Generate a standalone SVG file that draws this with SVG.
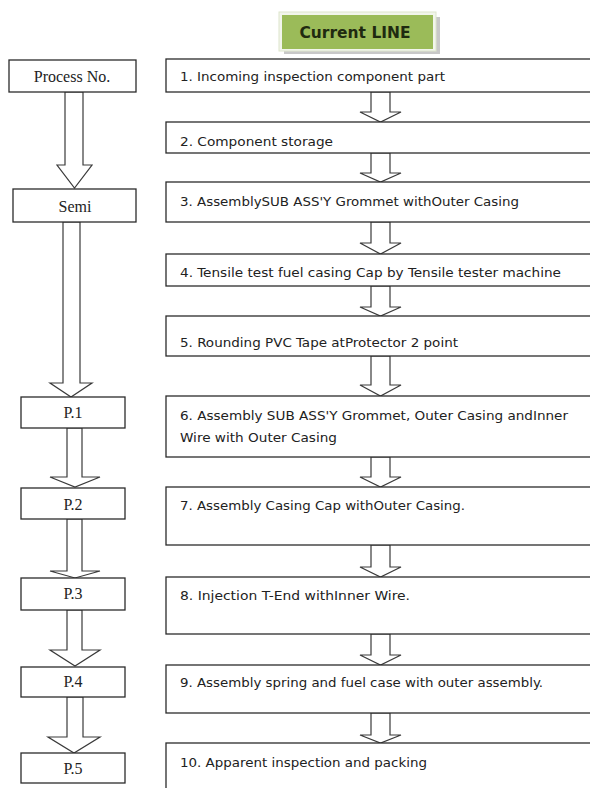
<svg xmlns="http://www.w3.org/2000/svg" width="590" height="788" viewBox="0 0 590 788">
<style>
.box{fill:#fff;stroke:#2b2b2b;stroke-width:1.3}
.arr{fill:#fff;stroke:#3a3a3a;stroke-width:1.2;stroke-linejoin:miter}
.lt{font-family:"Liberation Serif","Times New Roman",serif;font-size:16px;fill:#222;text-anchor:middle}
.rt{font-family:"DejaVu Sans Condensed","DejaVu Sans",sans-serif;font-size:13px;fill:#222}
.hd{font-family:"DejaVu Sans Condensed","DejaVu Sans",sans-serif;font-size:15px;font-weight:bold;fill:#1f2a10;text-anchor:middle}
</style>
<rect width="590" height="788" fill="#fff"/>
<g id="header">
<rect x="284" y="17" width="156" height="37" fill="#c8c8c8"/>
<rect x="279" y="12" width="157" height="39" fill="#f2f5ec" stroke="#dde5cc" stroke-width="1"/>
<rect x="282" y="15" width="151" height="34" fill="#9bbb59"/>
<text class="hd" x="355" y="38" textLength="111" lengthAdjust="spacingAndGlyphs">Current LINE</text>
</g>
<g id="connectors">
<polygon class="arr" points="65,92 65,165 57,165 74.5,188 92,165 83,165 83,92"/>
<polygon class="arr" points="63,222 63,383 50,383 71,397 92,383 80,383 80,222"/>
<polygon class="arr" points="67,428 67,477 50,477 75,487 100,477 82,477 82,428"/>
<polygon class="arr" points="67,519 67,571 50,571 75,578 100,571 82,571 82,519"/>
<polygon class="arr" points="67,610 67,650 50,650 75,666 100,650 82,650 82,610"/>
<polygon class="arr" points="67,697 67,737 48,737 74,753 100,737 83,737 83,697"/>
<polygon class="arr" points="371,92 371,112 360,112 380.5,122 401,112 390,112 390,92"/>
<polygon class="arr" points="371,153 371,173 360,173 380.5,182 401,173 390,173 390,153"/>
<polygon class="arr" points="371,222 371,243 360,243 380.5,254 401,243 390,243 390,222"/>
<polygon class="arr" points="371,286 371,307 360,307 380.5,316 401,307 390,307 390,286"/>
<polygon class="arr" points="371,356 371,385 360,385 380.5,396 401,385 390,385 390,356"/>
<polygon class="arr" points="371,457 371,477 360,477 380.5,487 401,477 390,477 390,457"/>
<polygon class="arr" points="371,545 371,567 360,567 380.5,577 401,567 390,567 390,545"/>
<polygon class="arr" points="371,634 371,655 360,655 380.5,665 401,655 390,655 390,634"/>
<polygon class="arr" points="371,713 371,735 360,735 380.5,743 401,735 390,735 390,713"/>
</g>
<g id="process-no"><rect class="box" x="9" y="60" width="127" height="32"/><text class="lt" x="72" y="82">Process No.</text></g>
<g id="semi"><rect class="box" x="13" y="189" width="123" height="33"/><text class="lt" x="75" y="212">Semi</text></g>
<g id="p1"><rect class="box" x="21" y="397" width="104" height="31"/><text class="lt" x="73" y="418">P.1</text></g>
<g id="p2"><rect class="box" x="21" y="488" width="104" height="31"/><text class="lt" x="73" y="510">P.2</text></g>
<g id="p3"><rect class="box" x="21" y="578" width="104" height="32"/><text class="lt" x="73" y="599">P.3</text></g>
<g id="p4"><rect class="box" x="21" y="667" width="104" height="30"/><text class="lt" x="73" y="687">P.4</text></g>
<g id="p5"><rect class="box" x="21" y="753" width="104" height="30"/><text class="lt" x="73" y="774">P.5</text></g>
<g id="s1"><rect class="box" x="166" y="59" width="430" height="33"/><text class="rt" x="180" y="81" textLength="265" lengthAdjust="spacingAndGlyphs">1. Incoming inspection component part</text></g>
<g id="s2"><rect class="box" x="166" y="122" width="430" height="31"/><text class="rt" x="180" y="146" textLength="153" lengthAdjust="spacingAndGlyphs">2. Component storage</text></g>
<g id="s3"><rect class="box" x="166" y="182" width="430" height="40"/><text class="rt" x="180" y="206" textLength="339" lengthAdjust="spacingAndGlyphs">3. AssemblySUB ASS'Y Grommet withOuter Casing</text></g>
<g id="s4"><rect class="box" x="166" y="254" width="430" height="32"/><text class="rt" x="180" y="277" textLength="381" lengthAdjust="spacingAndGlyphs">4. Tensile test fuel casing Cap by Tensile tester machine</text></g>
<g id="s5"><rect class="box" x="166" y="316" width="430" height="40"/><text class="rt" x="180" y="347" textLength="278" lengthAdjust="spacingAndGlyphs">5. Rounding PVC Tape atProtector 2 point</text></g>
<g id="s6"><rect class="box" x="166" y="396" width="430" height="61"/><text class="rt" x="180" y="420" textLength="388" lengthAdjust="spacingAndGlyphs">6. Assembly SUB ASS'Y Grommet, Outer Casing andInner</text><text class="rt" x="180" y="442" textLength="157" lengthAdjust="spacingAndGlyphs">Wire with Outer Casing</text></g>
<g id="s7"><rect class="box" x="166" y="487" width="430" height="58"/><text class="rt" x="180" y="510" textLength="285" lengthAdjust="spacingAndGlyphs">7. Assembly Casing Cap withOuter Casing.</text></g>
<g id="s8"><rect class="box" x="166" y="577" width="430" height="57"/><text class="rt" x="180" y="600" textLength="230" lengthAdjust="spacingAndGlyphs">8. Injection T-End withInner Wire.</text></g>
<g id="s9"><rect class="box" x="166" y="665" width="430" height="48"/><text class="rt" x="180" y="687" textLength="363" lengthAdjust="spacingAndGlyphs">9. Assembly spring and fuel case with outer assembly.</text></g>
<g id="s10"><rect class="box" x="166" y="743" width="430" height="60"/><text class="rt" x="180" y="767" textLength="247" lengthAdjust="spacingAndGlyphs">10. Apparent inspection and packing</text></g>
</svg>
